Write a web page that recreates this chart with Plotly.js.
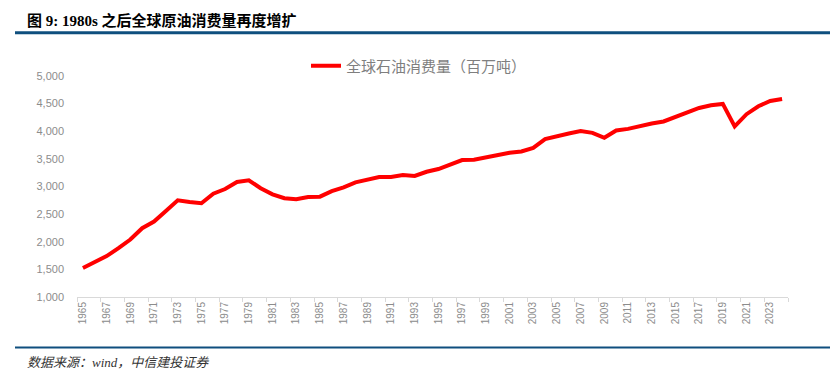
<!DOCTYPE html>
<html>
<head>
<meta charset="utf-8">
<script src="https://cdn.plot.ly/plotly-3.0.1.min.js"></script>
<style>
html,body{margin:0;padding:0;background:#fff;}
#chart{width:830px;height:380px;}
</style>
</head>
<body>
<div id="chart"></div>
<script>
const years = ["1965","1966","1967","1968","1969","1970","1971","1972","1973","1974",
  "1975","1976","1977","1978","1979","1980","1981","1982","1983","1984",
  "1985","1986","1987","1988","1989","1990","1991","1992","1993","1994",
  "1995","1996","1997","1998","1999","2000","2001","2002","2003","2004",
  "2005","2006","2007","2008","2009","2010","2011","2012","2013","2014",
  "2015","2016","2017","2018","2019","2020","2021","2022","2023","2024"];
const oilConsumption = [1525,1625,1740,1884,2040,2245,2365,2558,2751,2720,
  2697,2870,2955,3081,3112,2968,2859,2787,2769,2810,
  2816,2915,2985,3076,3117,3171,3171,3208,3190,3267,
  3316,3388,3478,3484,3532,3574,3610,3635,3700,3857,
  3914,3960,4002,3971,3881,4014,4043,4097,4141,4177,
  4255,4339,4422,4471,4495,4087,4309,4453,4549,4585];
const seriesName = "全球石油消费量（百万吨）";
const chartTitle = "图 9: 1980s 之后全球原油消费量再度增扩";
const sourceText = "数据来源：wind，中信建投证券";

const L = 77, R = 42, T = 76, B = 83;
const W = 830, H = 380;
const pw = W - L - R, ph = H - T - B;
const px = x => (x - L) / pw;
const py = y => (H - B - y) / ph;

const trace = {
  x: years, y: oilConsumption, type: 'scatter', mode: 'lines',
  name: seriesName,
  line: {color: '#FF0000', width: 4}
};

const layout = {
  width: W, height: H,
  margin: {l: L, r: R, t: T, b: B, pad: 0},
  paper_bgcolor: '#fff', plot_bgcolor: '#fff',
  showlegend: true,
  legend: {
    orientation: 'h', x: px(306), xanchor: 'left', y: py(66), yanchor: 'middle',
    font: {family: 'Noto Sans CJK SC', size: 15, color: '#7f7f7f'},
    bgcolor: 'rgba(0,0,0,0)'
  },
  xaxis: {
    type: 'category', range: [-0.5, 59.5], dtick: 2, tickson: 'boundaries',
    ticks: 'outside', ticklen: 4, tickcolor: '#d9d9d9', tickwidth: 1,
    showline: true, linecolor: '#d9d9d9', linewidth: 1,
    showgrid: false, zeroline: false, tickangle: -90,
    tickfont: {family: 'Liberation Sans', size: 10, color: '#8c8c8c'}
  },
  yaxis: {
    range: [1000, 5000], dtick: 500, tickformat: ',d',
    showgrid: false, zeroline: false, showline: false, ticks: '',
    ticklabelstandoff: 12,
    tickfont: {family: 'Liberation Sans', size: 11, color: '#8c8c8c'}
  },
  shapes: [
    {type: 'line', xref: 'paper', yref: 'paper', x0: px(15), x1: px(830), y0: py(32.7), y1: py(32.7),
     line: {color: '#0F4F7E', width: 3}},
    {type: 'line', xref: 'paper', yref: 'paper', x0: px(15), x1: px(830), y0: py(347.5), y1: py(347.5),
     line: {color: '#0F4F7E', width: 2}}
  ],
  annotations: [
    {text: '<b>' + chartTitle + '</b>', xref: 'paper', yref: 'paper', x: px(25), y: py(20.5),
     xanchor: 'left', yanchor: 'middle', showarrow: false,
     font: {family: 'Liberation Serif, Noto Sans CJK SC', size: 15, color: '#000'}},
    {text: '<i>' + sourceText + '</i>', xref: 'paper', yref: 'paper', x: px(25), y: py(362.5),
     xanchor: 'left', yanchor: 'middle', showarrow: false,
     font: {family: 'Liberation Serif, Noto Sans CJK SC', size: 13, color: '#333'}}
  ]
};

Plotly.newPlot('chart', [trace], layout, {displayModeBar: false, staticPlot: true});
</script>
</body>
</html>
